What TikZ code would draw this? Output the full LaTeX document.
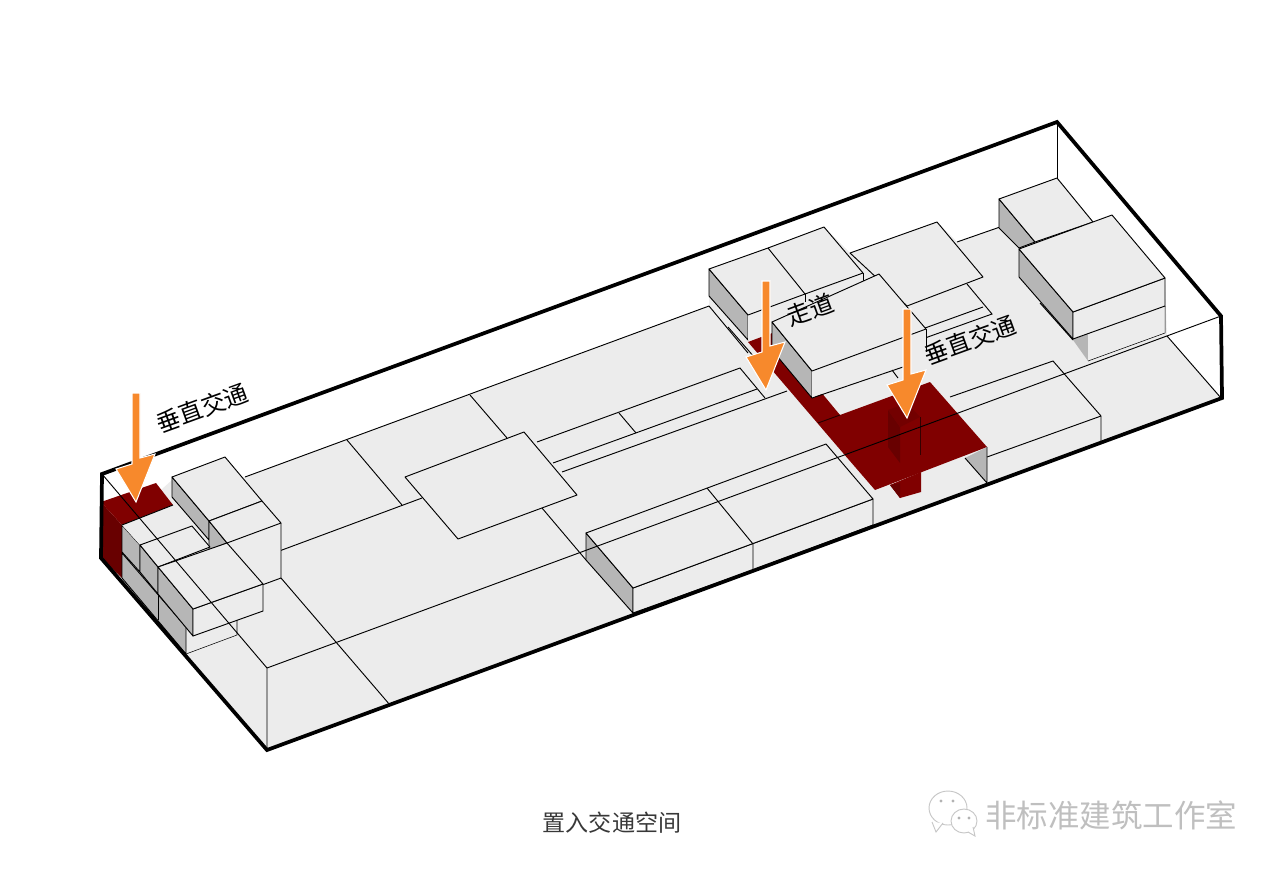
\documentclass[tikz,border=0pt]{standalone}
\usepackage{fontspec}
\newfontfamily\cjk{Noto Sans CJK SC}
\usepackage{xcolor}
\definecolor{floorgray}{HTML}{ECECEC}
\definecolor{sidegray}{HTML}{B6B6B6}
\definecolor{wayred}{HTML}{800000}
\definecolor{darkred}{HTML}{680000}
\definecolor{arroworange}{HTML}{F7892C}

\begin{document}
\begin{tikzpicture}[
    x=0.75pt,y=-0.75pt,
    face/.style={fill=floorgray,draw=black,line width=0.7pt,line join=round},
    side/.style={fill=sidegray,draw=black,line width=0.7pt,line join=round},
    thinline/.style={draw=black,line width=0.7pt},
    frame/.style={draw=black,line width=2.8pt,line join=miter},
    drop/.style={fill=arroworange,draw=white,line width=0.8pt,line join=miter},
    tag/.style={font=\cjk\fontsize{18}{18}\selectfont,rotate=20,inner sep=0pt},
    iconline/.style={draw=black!22,line width=0.7pt,fill=white}
  ]
    \useasboundingbox (0,0) rectangle (1280,872);
    % floor
    \fill[floorgray] (122,578) -- (267,750) -- (1222,398) -- (1167,336) -- (1165,278) -- (1112,215) -- (1093,222) -- (1057,178)
      -- (1000,199) -- (1000,227) -- (957,242) -- (937,222) -- (850,253) -- (824,227) -- (709,269) -- (709,306)
      -- (245,477) -- (172,480) -- (122,525) -- cycle;
    % lines on the floor
    \draw[thinline] (245,477) -- (709,306);
    \draw[thinline] (347,440) -- (402,505);
    \draw[thinline] (470,395) -- (507,438);
    \draw[thinline] (247,563) -- (422,498);
    \draw[thinline] (537,442) -- (740,368) -- (765,398);
    \draw[thinline] (553,463) -- (757,389);
    \draw[thinline] (562,472) -- (787,391);
    \draw[thinline] (619,413) -- (636,433);
    \draw[thinline] (709,306) -- (748,353);
    \draw[thinline] (728,327) -- (755,358);
    \draw[thinline] (542,508) -- (586,560);
    \draw[thinline] (857,507) -- (873,525);
    \draw[thinline] (281,578) -- (390,705);
    \draw[thinline] (892,370) -- (898,378);
    \draw[thinline] (957,242) -- (1000,227);
    % corridor and landing
    \fill[wayred] (748,342) -- (772,333) -- (840,415) -- (930,382) -- (987,447) -- (875,490) -- (843,453) -- cycle;
    \draw[thinline,draw=black!70!wayred] (818,423) -- (840,415);
    % shaft
    \fill[darkred] (888,410) -- (900,427) -- (900,463) -- (888,447) -- cycle;
    \fill[black!10!wayred] (888,410) -- (907,403) -- (920,417) -- (900,427) -- cycle;
    \draw[line width=0.4pt,draw=black!60!wayred] (920,417) -- (920,455);
    \fill[wayred] (890,485) -- (921,472) -- (921,492) -- (900,498) -- cycle;
    \fill[darkred] (890,485) -- (900,483) -- (900,498) -- cycle;
    % low block at the front
    \draw[side] (586,533) -- (633,588) -- (633,613) -- (586,560) -- cycle;
    \draw[face] (633,588) -- (873,499) -- (873,525) -- (753,570) -- (633,613) -- cycle;
    \draw[face] (586,533) -- (826,444) -- (873,499) -- (633,588) -- cycle;
    \draw[thinline] (707,488) -- (753,544) -- (753,570);
    % block on the right of the landing
    \fill[sidegray] (965,458) -- (987,447) -- (987,483) -- cycle;
    \draw[thinline] (965,458) -- (987,483) -- (987,447);
    \draw[thinline] (950,397) -- (1053,361) -- (1101,416) -- (1101,441);
    \draw[thinline] (987,457) -- (1101,416);
    % plate in the middle
    \draw[face] (405,477) -- (524,432) -- (577,495) -- (458,539) -- cycle;
    % plates behind the upper blocks
    \draw[thinline] (967,284) -- (992,314) -- (925,338);
    \draw[thinline] (983,307) -- (925,328);
    \draw[face] (850,253) -- (937,222) -- (983,277) -- (907,306) -- cycle;
    % upper blocks
    \draw[side] (709,269) -- (748,315) -- (748,340) -- (709,296) -- cycle;
    \fill[floorgray] (748,315) -- (863,273) -- (863,285) -- (772,333) -- (748,340) -- cycle;
    \draw[thinline] (805,294) -- (805,302);
    \draw[thinline] (863,273) -- (863,282);
    \draw[face] (709,269) -- (768,248) -- (824,227) -- (863,273) -- (805,294) -- (748,315) -- cycle;
    \draw[thinline] (768,248) -- (805,294);
    \draw[side] (772,322) -- (812,371) -- (812,398) -- (772,350) -- cycle;
    \fill[floorgray] (812,371) -- (926,329) -- (926,352) -- (812,398) -- cycle;
    \draw[thinline] (812,398) -- (903,367);
    \draw[thinline] (926,329) -- (926,352);
    \draw[face] (772,322) -- (879,274) -- (926,329) -- (812,371) -- cycle;
    % blocks at the far end
    \draw[side] (999,199) -- (1035,242) -- (1019,248) -- (999,228) -- cycle;
    \draw[face] (999,199) -- (1057,178) -- (1093,222) -- (1035,242) -- cycle;
    \fill[sidegray] (1040,303) -- (1088,333) -- (1088,361) -- (1073,340) -- cycle;
    \draw[thinline] (1040,303) -- (1073,340);
    \fill[floorgray] (1088,333) -- (1165,306) -- (1165,333) -- (1088,361) -- cycle;
    \draw[line width=0.4pt] (1088,361) -- (1165,333) -- (1165,306);
    \draw[side] (1019,249) -- (1073,312) -- (1073,339) -- (1019,277) -- cycle;
    \draw[face] (1073,312) -- (1165,278) -- (1165,306) -- (1073,339) -- cycle;
    \draw[face] (1019,249) -- (1112,215) -- (1165,278) -- (1073,312) -- cycle;
    % stair at the left end
    \fill[darkred] (101,502) -- (122,525) -- (122,578) -- (101,558) -- cycle;
    \fill[wayred] (101,502) -- (156,483) -- (173,505) -- (122,525) -- cycle;
    % blocks at the left end
    \fill[floorgray] (227,543) -- (281,523) -- (281,578) -- (263,585) -- (240,580) -- cycle;
    \draw[thinline] (281,523) -- (281,578) -- (262,585);
    \draw[side] (172,477) -- (209,521) -- (209,540) -- (172,497) -- cycle;
    \draw[side] (209,521) -- (227,543) -- (209,550) -- cycle;
    \draw[face] (172,477) -- (225,457) -- (262,501) -- (209,521) -- cycle;
    \draw[face] (209,521) -- (262,501) -- (281,523) -- (227,543) -- cycle;
    \fill[floorgray] (186,627) -- (237,610) -- (237,635) -- (186,654) -- cycle;
    \draw[line width=0.4pt] (186,654) -- (237,635) -- (237,620);
    \draw[side] (122,553) -- (186,627) -- (186,654) -- (122,578) -- cycle;
    \draw[thinline] (158,594) -- (158,620);
    \draw[side] (122,525) -- (140,545) -- (140,572) -- (122,552) -- cycle;
    \draw[side] (140,545) -- (158,567) -- (158,594) -- (140,572) -- cycle;
    \fill[floorgray] (122,525) -- (173,505) -- (192,526) -- (140,545) -- cycle;
    \draw[thinline] (122,525) -- (173,505);
    \draw[face] (140,545) -- (192,526) -- (210,547) -- (158,567) -- cycle;
    \draw[side] (158,567) -- (193,609) -- (193,636) -- (158,594) -- cycle;
    \draw[face] (193,609) -- (263,584) -- (263,611) -- (193,636) -- cycle;
    \draw[face] (158,567) -- (227,543) -- (263,584) -- (193,609) -- cycle;
    % box edges
    \draw[thinline] (102,474) -- (267,668) -- (267,750);
    \draw[thinline] (267,668) -- (1221,316);
    \draw[thinline] (1057,122) -- (1057,178);
    \draw[thinline] (1167,336) -- (1221,398);
    \draw[frame] (101,558) -- (102,474) -- (1057,122) -- (1221,316) -- (1222,398) -- (267,750) -- cycle;
    % arrows
    \foreach \tipx/\tipy in {136/502,766/390,907/418}
      \draw[drop,shift={(\tipx,\tipy)}] (-4,-109) -- (4,-109) -- (4,-44) -- (19,-48) -- (0,0) -- (-20,-33) -- (-4,-38) -- cycle;
    % labels
    \node[tag] (leftlift) at (202,408) {垂直交通};
    \node[tag] (corridor) at (810,310) {走道};
    \node[tag] (rightlift) at (970,340) {垂直交通};
    \node[font=\cjk\fontsize{17.3}{18}\selectfont,text=black!78,inner sep=0pt] (caption) at (612,823) {置入交通空间};
    % mark in the corner
    \draw[iconline] (948,808) ellipse (19 and 17);
    \draw[iconline] (932,822) -- (936,832) -- (943,823);
    \draw[iconline] (964,821) ellipse (13 and 12);
    \draw[iconline] (968,832) -- (975,836) -- (973,827);
    \foreach \eyex/\eyey in {941/801,953/801,959/818,969/818}
      \fill[black!30] (\eyex,\eyey) circle (1.6);
    \node[font=\cjk\fontsize{23.6}{24}\selectfont,text=black!25,inner sep=0pt,anchor=west] (studio) at (985,815) {非标准建筑工作室};
  \end{tikzpicture}
\end{document}
